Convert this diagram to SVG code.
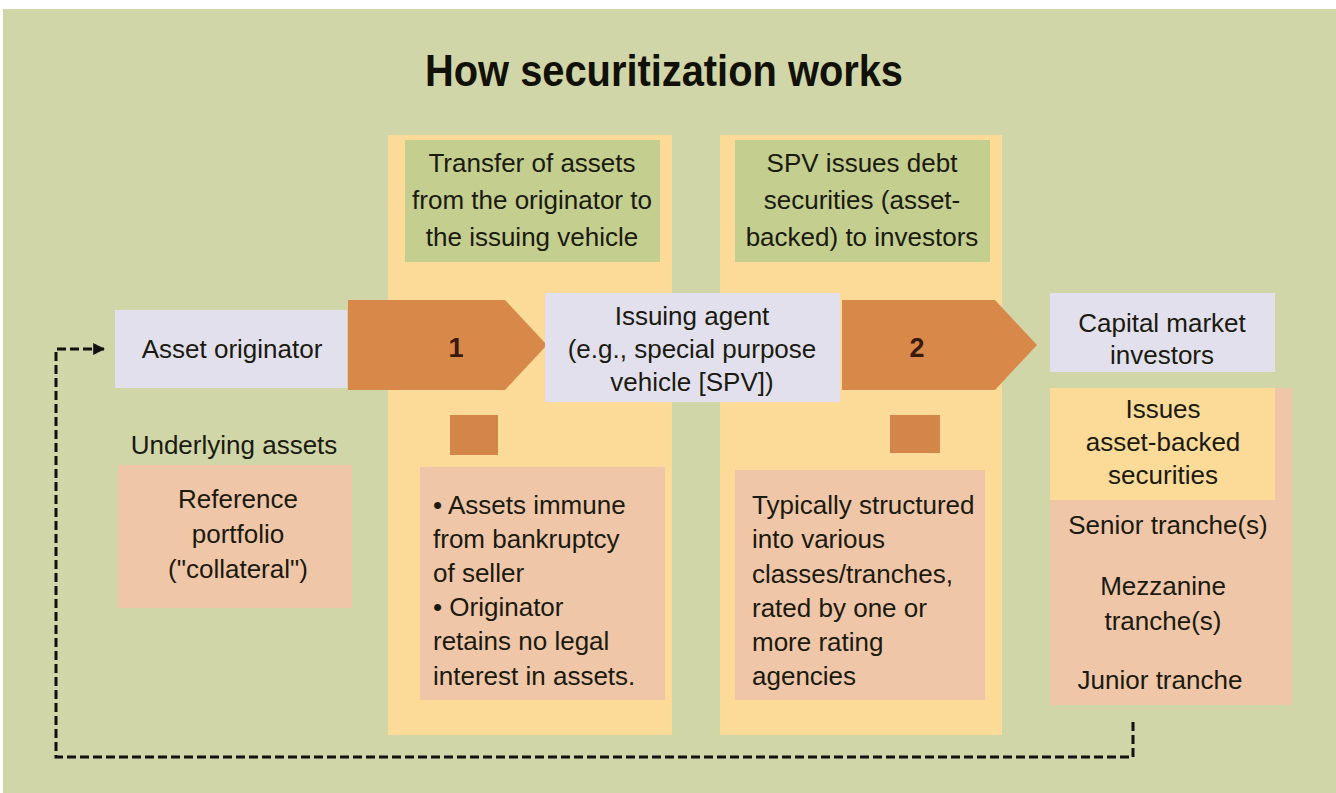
<svg xmlns="http://www.w3.org/2000/svg" width="1336" height="793" viewBox="0 0 1336 793">
<defs>
<style>
.t{font-family:"Liberation Sans",Arial,sans-serif;font-size:26px;fill:#1a1a10;text-anchor:middle}
.l{font-family:"Liberation Sans",Arial,sans-serif;font-size:26px;fill:#1a1a10}
.title{font-family:"Liberation Sans Narrow","Liberation Sans",Arial,sans-serif;font-size:44px;font-weight:bold;fill:#111108;text-anchor:middle}
.num{font-family:"Liberation Sans",Arial,sans-serif;font-size:27px;font-weight:bold;fill:#3a1a08;text-anchor:middle}
.lav{fill:#e2e0ec}
.peach{fill:#efc6a7}
.yel{fill:#fbdb97}
.grn{fill:#c4ce8e}
.arr{fill:#d8894a}
.sq{fill:#d4864a}
.dash{fill:none;stroke:#111;stroke-width:3;stroke-dasharray:9 4}
</style>
<marker id="ah" viewBox="0 0 10 10" refX="9" refY="5" markerWidth="4" markerHeight="4" orient="auto">
<path d="M0,0 L10,5 L0,10 z" fill="#111"/>
</marker>
</defs>
<rect x="0" y="0" width="1336" height="793" fill="#ffffff"/>
<rect x="3" y="9" width="1333" height="784" fill="#d1d6a9"/>
<text class="title" x="664" y="86" textLength="478" lengthAdjust="spacingAndGlyphs">How securitization works</text>

<g id="connectors">
<path class="dash" d="M1133,722 V757 H56 V349 H104" marker-end="url(#ah)"/>
</g>

<g id="panel1">
<rect class="yel" x="388" y="135" width="284" height="600"/>
<rect class="grn" x="405" y="140" width="255" height="122"/>
<text class="t" x="532" y="172">Transfer of assets</text>
<text class="t" x="532" y="209">from the originator to</text>
<text class="t" x="532" y="246">the issuing vehicle</text>
<rect class="sq" x="450" y="415" width="48" height="40"/>
<rect class="peach" x="420" y="467" width="245" height="233"/>
<text class="l" x="433" y="514">•  Assets immune</text>
<text class="l" x="433" y="548">from bankruptcy</text>
<text class="l" x="433" y="582">of seller</text>
<text class="l" x="433" y="616">•  Originator</text>
<text class="l" x="433" y="650">retains no legal</text>
<text class="l" x="433" y="685">interest in assets.</text>
</g>

<g id="panel2">
<rect class="yel" x="720" y="135" width="282" height="600"/>
<rect class="grn" x="735" y="140" width="255" height="122"/>
<text class="t" x="862" y="172">SPV issues debt</text>
<text class="t" x="862" y="209">securities (asset-</text>
<text class="t" x="862" y="246">backed) to investors</text>
<rect class="sq" x="890" y="415" width="50" height="38"/>
<rect class="peach" x="735" y="470" width="250" height="230"/>
<text class="l" x="752" y="514">Typically structured</text>
<text class="l" x="752" y="548">into various</text>
<text class="l" x="752" y="583">classes/tranches,</text>
<text class="l" x="752" y="617">rated by one or</text>
<text class="l" x="752" y="651">more rating</text>
<text class="l" x="752" y="685">agencies</text>
</g>

<g id="originator">
<rect class="lav" x="115" y="310" width="232" height="78"/>
<text class="t" x="232" y="358">Asset originator</text>
</g>

<g id="underlying">
<text class="t" x="234" y="454">Underlying assets</text>
<rect class="peach" x="118" y="465" width="234" height="143"/>
<text class="t" x="238" y="508">Reference</text>
<text class="t" x="238" y="543">portfolio</text>
<text class="t" x="238" y="578">("collateral")</text>
</g>

<g id="arrow1">
<path class="arr" d="M348,300 H505 L547,345 L505,390 H348 Z"/>
<text class="num" x="456" y="357">1</text>
</g>

<g id="spv">
<rect class="lav" x="545" y="293" width="295" height="109"/>
<text class="t" x="692" y="325">Issuing agent</text>
<text class="t" x="692" y="358">(e.g., special purpose</text>
<text class="t" x="692" y="391">vehicle [SPV])</text>
</g>

<g id="arrow2">
<path class="arr" d="M842,300 H995 L1037,345 L995,390 H842 Z"/>
<text class="num" x="917" y="357">2</text>
</g>

<g id="investors">
<rect class="lav" x="1050" y="293" width="225" height="79"/>
<text class="t" x="1162" y="332">Capital market</text>
<text class="t" x="1162" y="364">investors</text>
</g>

<g id="tranches">
<rect class="peach" x="1050" y="388" width="242" height="317"/>
<rect class="yel" x="1050" y="388" width="225" height="112"/>
<text class="t" x="1163" y="418">Issues</text>
<text class="t" x="1163" y="451">asset-backed</text>
<text class="t" x="1163" y="484">securities</text>
<text class="t" x="1168" y="534">Senior tranche(s)</text>
<text class="t" x="1163" y="595">Mezzanine</text>
<text class="t" x="1163" y="630">tranche(s)</text>
<text class="t" x="1160" y="689">Junior tranche</text>
</g>
</svg>
